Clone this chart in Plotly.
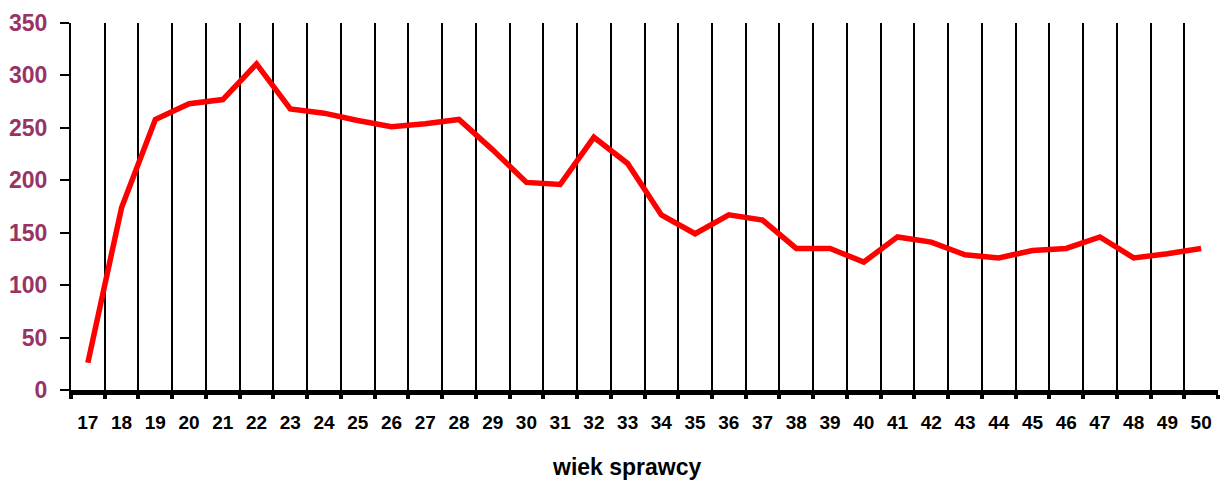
import plotly.graph_objects as go

ages = [str(a) for a in range(17, 51)]
counts = [26, 174, 258, 273, 277, 311, 268, 264, 257, 251, 254, 258, 229, 198, 196,
          241, 216, 167, 149, 167, 162, 135, 135, 122, 146, 141, 129, 126, 133, 135,
          146, 126, 130, 135]
y_ticks = [0, 50, 100, 150, 200, 250, 300, 350]
x_title = "wiek sprawcy"

fig = go.Figure()
fig.add_trace(go.Scatter(x=ages, y=counts, mode="lines",
                         line=dict(color="#ff0000", width=5.5), showlegend=False))

fig.update_layout(
    width=1220, height=481,
    margin=dict(l=71, r=2, t=23, b=91),
    paper_bgcolor="white", plot_bgcolor="white",
    font=dict(family="Liberation Sans, Arial, sans-serif", color="black"),
)
fig.update_xaxes(
    type="category", tickson="boundaries", range=[-0.5, len(ages) - 0.5],
    showgrid=True, gridcolor="black", gridwidth=2,
    showline=True, linecolor="black", linewidth=5,
    ticks="outside", ticklen=4, tickwidth=4, tickcolor="black",
    ticklabelstandoff=11, tickangle=0,
    tickfont=dict(family="Liberation Sans, Arial", size=19, color="black", weight="bold"),
    automargin=False, zeroline=False,
)
fig.update_yaxes(
    range=[0, 350], tickvals=y_ticks, showgrid=False, zeroline=False,
    showline=True, linecolor="black", linewidth=2,
    ticks="outside", ticklen=9, tickwidth=2, tickcolor="black",
    ticklabelstandoff=8, automargin=False,
    tickfont=dict(size=23, color="#993366", weight="bold"),
)
fig.add_annotation(text=x_title, xref="paper", yref="paper", x=0.485, y=0.0,
                   yshift=-77, showarrow=False, yanchor="middle",
                   font=dict(size=23, color="black", weight="bold"))
fig.write_html("out.html", config={"displayModeBar": False},
               post_script="document.body.style.margin='0';document.body.style.overflow='hidden';")
